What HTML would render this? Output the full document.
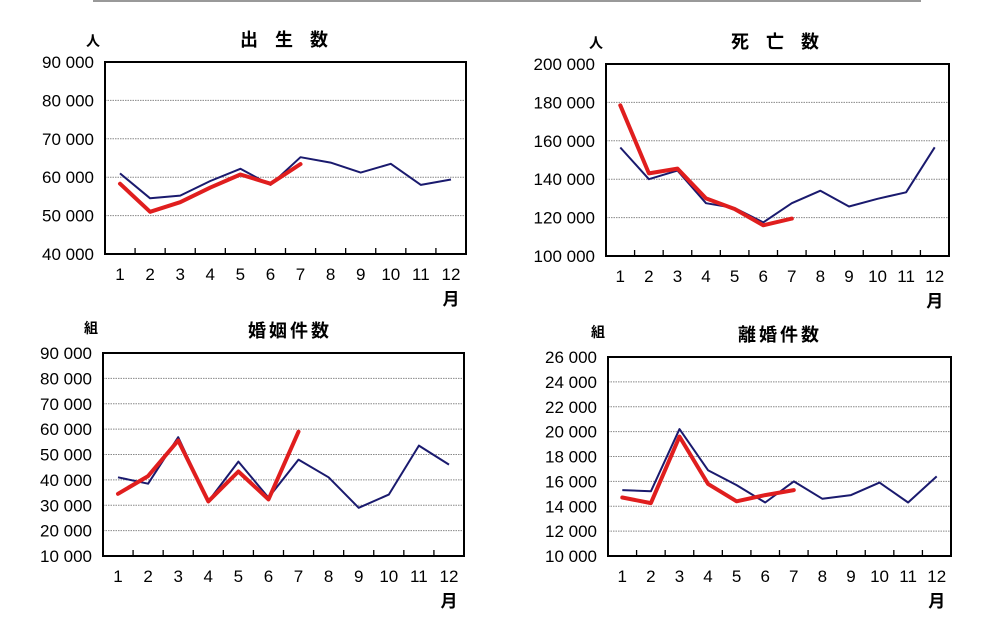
<!DOCTYPE html>
<html><head><meta charset="utf-8">
<style>
html,body{margin:0;padding:0;background:#fff;}
svg{display:block;}
text{font-family:"Liberation Sans","Noto Sans CJK JP",sans-serif;fill:#000;}
</style></head>
<body>
<svg id="s" width="993" height="621" xmlns="http://www.w3.org/2000/svg">
<line x1="93" y1="1" x2="921" y2="1" stroke="#999" stroke-width="2"/>
</svg>
<script>
const NS="http://www.w3.org/2000/svg",S=document.getElementById('s');
function el(t,a,txt){const e=document.createElementNS(NS,t);for(const k in a)e.setAttribute(k,a[k]);if(txt!==undefined)e.textContent=txt;S.appendChild(e);return e;}
function chart(c){
 const {x0,x1,y0,y1,min,max,step,title,unit,blue,red,tx,ux,uy}=c;
 const n=(max-min)/step, h=(y1-y0)/n, w=(x1-x0)/12;
 for(let i=0;i<=n;i++){
  const y=y1-i*h;
  if(i>0&&i<n) el('line',{x1:x0,y1:y,x2:x1,y2:y,stroke:'#888','stroke-width':1,'stroke-dasharray':'1.5,1'});
  const v=min+i*step; const s=Math.floor(v/1000)+' 000';
  el('text',{x:x0-11,y:y+6,'text-anchor':'end','font-size':17},s);
 }
 for(let i=1;i<12;i++) el('line',{x1:x0+i*w,y1:y1,x2:x0+i*w,y2:y1-6,stroke:'#000','stroke-width':1.3});
 for(let i=0;i<12;i++) el('text',{x:x0+w*(i+0.5),y:y1+26,'text-anchor':'middle','font-size':17},String(i+1));
 el('text',{x:x0+w*11.5,y:y1+51,'text-anchor':'middle','font-size':17,'font-weight':'bold'},'月');
 el('text',{x:tx,y:y0-16,'text-anchor':'middle','font-size':18,'font-weight':'bold','letter-spacing':c.ls||4},title);
 el('text',{x:ux,y:uy,'text-anchor':'middle','font-size':14,'font-weight':'bold'},unit);
 const P=a=>a.map((v,i)=>(x0+w*(i+0.5)).toFixed(1)+','+(y1-(v-min)/(max-min)*(y1-y0)).toFixed(1)).join(' ');
 el('polyline',{points:P(blue),fill:'none',stroke:'#1a1a6e','stroke-width':2,'stroke-linejoin':'round'});
 el('polyline',{points:P(red),fill:'none',stroke:'#e01e1e','stroke-width':4,'stroke-linejoin':'round','stroke-linecap':'round'});
 el('rect',{x:x0,y:y0,width:x1-x0,height:y1-y0,fill:'none',stroke:'#000','stroke-width':2});
}
chart({x0:105,x1:466,y0:62,y1:254,min:40000,max:90000,step:10000,title:'出 生 数',unit:'人',tx:287,ux:93,uy:46,ls:6,
 blue:[61000,54500,55200,59000,62200,58000,65200,63800,61200,63500,58000,59400],
 red:[58300,51000,53500,57300,60700,58300,63400]});
chart({x0:606,x1:949,y0:64,y1:256,min:100000,max:200000,step:20000,title:'死 亡 数',unit:'人',tx:778,ux:596,uy:48,ls:6,
 blue:[156500,140000,144500,127500,125000,117500,127500,134000,125800,129800,133200,156600],
 red:[178500,143000,145500,130000,124500,116000,119500]});
chart({x0:103,x1:464,y0:353,y1:556,min:10000,max:90000,step:10000,title:'婚姻件数',unit:'組',tx:290,ux:91,uy:333,ls:3,
 blue:[41000,38500,56800,31500,47200,33000,48000,41000,29000,34200,53500,46000],
 red:[34500,41500,55500,31500,43300,32300,59000]});
chart({x0:608,x1:951,y0:357,y1:556,min:10000,max:26000,step:2000,title:'離婚件数',unit:'組',tx:780,ux:598,uy:337,ls:3,
 blue:[15300,15200,20200,16900,15700,14300,16000,14600,14900,15900,14300,16400],
 red:[14700,14250,19600,15800,14400,14900,15300]});
</script>
</body></html>
